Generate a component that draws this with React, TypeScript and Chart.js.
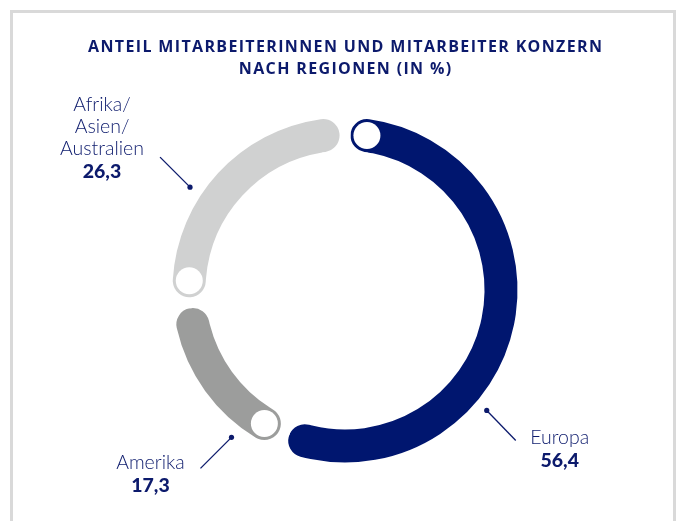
import React, { useEffect, useRef } from "react";
import { Chart, registerables } from "chart.js";

Chart.register(...registerables);

const titleLines = ["ANTEIL MITARBEITERINNEN UND MITARBEITER KONZERN", "NACH REGIONEN (IN %)"];
const categories = ["Europa", "Amerika", "Afrika/Asien/Australien"];
const labelLines = [["Europa"], ["Amerika"], ["Afrika/", "Asien/", "Australien"]];
const values = [56.4, 17.3, 26.3];
const valueLabels = ["56,4", "17,3", "26,3"];
const colors = ["#00166f", "#9c9d9c", "#d0d1d1"];

const NAVY = "#0c1a6c";
const GAP = 11; // white border width -> gap between segments
const RING_OUTER = 172.5;
const RING_INNER = 139.5;

// label layout: fraction along arc for dot, leader end offset, text anchor offset from dot
const labelLayout = [
  { frac: 0.642, lx: 29, ly: 30, tx: 73, ty: 49 },
  { frac: 0.234, lx: -31, ly: 31, tx: -81, ty: 47 },
  { frac: 0.404, lx: -30, ly: -30, tx: -88, ty: -16 },
];

const titlePlugin = {
  id: "customTitle",
  afterDraw(chart: any) {
    const ctx = chart.ctx;
    ctx.save();
    ctx.fillStyle = NAVY;
    ctx.textAlign = "center";
    ctx.textBaseline = "middle";
    ctx.font = "bold 16px 'Open Sans'";
    const w0 = ctx.measureText(titleLines[0]).width;
    const ls = Math.max(0, (514 - w0) / (titleLines[0].length - 1));
    (ctx as any).letterSpacing = ls.toFixed(2) + "px";
    const cx = 345 + ls / 2;
    titleLines.forEach((t, k) => ctx.fillText(t, cx, 47 + k * 22));
    ctx.restore();
  },
};

const capPlugin = {
  id: "caps",
  afterDatasetsDraw(chart: any) {
    const ctx = chart.ctx;
    const meta = chart.getDatasetMeta(0);
    meta.data.forEach((arc: any, i: number) => {
      const { x, y, startAngle, endAngle, innerRadius, outerRadius } = arc.getProps(
        ["x", "y", "startAngle", "endAngle", "innerRadius", "outerRadius"],
        true
      );
      const thick = outerRadius - innerRadius;
      const rMid = (outerRadius + innerRadius) / 2;
      const fillR = thick / 2;
      const capR = fillR - GAP / 2;
      const a = startAngle + fillR / rMid;
      ctx.save();
      ctx.beginPath();
      ctx.arc(x + Math.cos(a) * rMid, y + Math.sin(a) * rMid, capR - 3, 0, Math.PI * 2);
      ctx.fillStyle = "#ffffff";
      ctx.fill();
      ctx.restore();

      // labels
      const L = labelLayout[i];
      const da = startAngle + L.frac * (endAngle - startAngle);
      const rd = rMid + 30;
      const dx = x + Math.cos(da) * rd;
      const dy = y + Math.sin(da) * rd;
      ctx.save();
      ctx.strokeStyle = NAVY;
      ctx.fillStyle = NAVY;
      ctx.lineWidth = 1.3;
      ctx.beginPath();
      ctx.moveTo(dx, dy);
      ctx.lineTo(dx + L.lx, dy + L.ly);
      ctx.stroke();
      ctx.beginPath();
      ctx.arc(dx, dy, 2.6, 0, Math.PI * 2);
      ctx.fill();
      ctx.textAlign = "center";
      ctx.textBaseline = "middle";
      const lines = labelLines[i];
      const lh = 22;
      const tx = dx + L.tx;
      const vy = dy + L.ty;
      ctx.font = "300 19.5px Lato";
      lines.forEach((t, k) => {
        ctx.fillText(t, tx, vy - (lines.length - k) * lh);
      });
      ctx.font = "900 19.5px Lato";
      ctx.fillText(valueLabels[i], tx, vy + 1);
      ctx.restore();
    });
  },
};

export default function App() {
  const ref = useRef<HTMLCanvasElement | null>(null);
  useEffect(() => {
    document.body.style.margin = "0";
    const outer = RING_OUTER + GAP / 2;
    const inner = RING_INNER - GAP / 2;
    const c = new Chart(ref.current as HTMLCanvasElement, {
      type: "doughnut",
      data: {
        labels: categories,
        datasets: [
          {
            data: values,
            backgroundColor: colors,
            borderColor: "#ffffff",
            borderWidth: GAP,
            borderRadius: (outer - inner) / 2,
          },
        ],
      },
      options: {
        animation: false,
        responsive: false,
        events: [],
        radius: outer,
        cutout: ((inner / outer) * 100).toFixed(3) + "%",
        rotation: 0,
        layout: { padding: { top: 100, bottom: 41, left: 100, right: 88 } },
        plugins: {
          legend: { display: false },
          tooltip: { enabled: false },
          title: { display: false },
        },
      },
      plugins: [capPlugin, titlePlugin],
    });
    return () => c.destroy();
  }, []);
  return (
    <div style={{ position: "relative", width: 678, height: 521, overflow: "hidden", background: "#fff" }}>
      <div
        style={{
          position: "absolute",
          left: 10,
          top: 10,
          width: 666,
          height: 600,
          boxSizing: "border-box",
          border: "3px solid #d9d9d9",
          borderBottom: "none",
        }}
      />
      <canvas ref={ref} width={678} height={521} style={{ position: "absolute", left: 0, top: 0 }} />
    </div>
  );
}
